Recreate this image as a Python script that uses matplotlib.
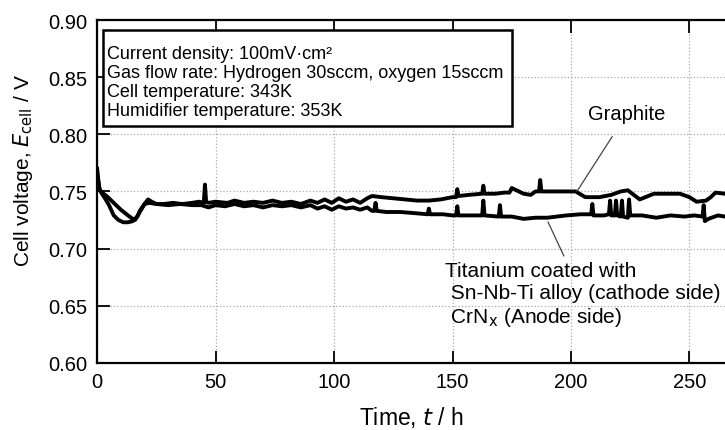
import matplotlib
matplotlib.use("Agg")
import matplotlib.pyplot as plt
from matplotlib.patches import Rectangle

plt.rcParams["font.family"] = ["Liberation Sans", "DejaVu Sans"]

# (time h, cell voltage V)
# Graphite separator: rounded dip at start, upper curve later on
graphite = [
    (0, 0.770), (0.5, 0.760), (1, 0.752), (2, 0.748), (3, 0.745), (5, 0.738),
    (7, 0.729), (9, 0.725), (11, 0.723), (13, 0.723), (15, 0.724), (17, 0.728),
    (18, 0.733), (20, 0.739), (21.5, 0.743), (23, 0.741), (25, 0.739),
    (28, 0.739), (32, 0.740), (36, 0.739), (40, 0.740), (43, 0.741),
    (45, 0.740), (45.5, 0.756), (46, 0.741), (47, 0.740), (50, 0.741),
    (55, 0.740), (58, 0.742), (62, 0.740), (66, 0.741), (70, 0.740),
    (74, 0.742), (78, 0.740), (82, 0.741), (86, 0.739), (90, 0.742),
    (93, 0.740), (96, 0.743), (99, 0.740), (102, 0.744), (105, 0.741),
    (108, 0.743), (111, 0.740), (114, 0.744), (116, 0.746), (120, 0.745),
    (125, 0.744), (130, 0.743), (135, 0.742), (140, 0.742), (145, 0.743),
    (150, 0.745), (151.5, 0.745), (152, 0.752), (152.5, 0.746), (157, 0.747),
    (162.5, 0.748), (163, 0.755), (163.5, 0.748), (168, 0.748), (172, 0.749),
    (174, 0.749), (175, 0.753), (180, 0.748), (183, 0.747), (185, 0.750),
    (186.5, 0.750), (187, 0.760), (187.5, 0.750), (190, 0.750), (195, 0.750),
    (202, 0.750), (206, 0.745), (212, 0.745), (217, 0.747), (221, 0.750),
    (224, 0.751), (229, 0.743), (235, 0.748), (240, 0.748), (246, 0.748),
    (250, 0.745), (253, 0.741), (257, 0.742), (259, 0.745), (261, 0.749),
    (265, 0.748),
]

# Titanium coated with Sn-Nb-Ti alloy / CrNx: V-shaped dip, lower curve later
titanium = [
    (0, 0.765), (0.5, 0.758), (1, 0.752), (2, 0.749), (4, 0.746), (7, 0.740),
    (10, 0.734), (13, 0.729), (15, 0.726), (16, 0.725), (18, 0.732),
    (20, 0.739), (22, 0.740), (25, 0.739), (30, 0.738), (35, 0.739),
    (40, 0.738), (44, 0.738), (47, 0.736), (50, 0.738), (54, 0.737),
    (58, 0.739), (62, 0.737), (66, 0.738), (70, 0.736), (74, 0.738),
    (78, 0.737), (82, 0.738), (86, 0.736), (90, 0.738), (93, 0.735),
    (96, 0.737), (99, 0.734), (102, 0.737), (105, 0.735), (108, 0.736),
    (111, 0.734), (114, 0.736), (116, 0.733), (117, 0.733), (117.5, 0.740),
    (118, 0.733), (122, 0.732), (128, 0.732), (134, 0.731), (139.5, 0.730),
    (140, 0.735), (140.5, 0.730), (146, 0.730), (150, 0.729), (151.5, 0.729),
    (152, 0.737), (152.5, 0.729), (158, 0.729), (162.5, 0.729), (163, 0.742),
    (163.5, 0.729), (169.5, 0.728), (170, 0.738), (170.5, 0.728), (175, 0.728),
    (180, 0.726), (185, 0.727), (190, 0.727), (198, 0.729), (204, 0.730),
    (208.5, 0.730), (209, 0.739), (209.5, 0.729), (214, 0.729), (216, 0.730),
    (216.5, 0.742), (217, 0.729), (218.5, 0.729), (219, 0.742), (219.5, 0.729),
    (221, 0.728), (221.5, 0.742), (222, 0.728), (224, 0.727), (224.5, 0.743),
    (225, 0.729), (230, 0.729), (236, 0.727), (242, 0.729), (248, 0.728),
    (252, 0.729), (255.5, 0.728), (256, 0.738), (256.5, 0.724), (258, 0.726),
    (262, 0.729), (265, 0.728),
]

x_ticks = [0, 50, 100, 150, 200, 250]
y_ticks = [0.60, 0.65, 0.70, 0.75, 0.80, 0.85, 0.90]

conditions = ("Current density: 100mV\u00b7cm\u00b2\n"
              "Gas flow rate: Hydrogen 30sccm, oxygen 15sccm\n"
              "Cell temperature: 343K\n"
              "Humidifier temperature: 353K")

t_graphite, v_graphite = zip(*graphite)
t_titanium, v_titanium = zip(*titanium)

fig = plt.figure(figsize=(7.25, 4.31), dpi=100)
ax = fig.add_axes([0.134, 0.156, 0.866, 0.795])

ax.plot(t_graphite, v_graphite, color="black", lw=2.8, solid_joinstyle="round")
ax.plot(t_titanium, v_titanium, color="black", lw=2.8, solid_joinstyle="round")

ax.set_xlim(0, 265)
ax.set_ylim(0.60, 0.90)
ax.set_xticks(x_ticks)
ax.set_yticks(y_ticks)
ax.yaxis.set_major_formatter(matplotlib.ticker.FormatStrFormatter("%.2f"))
ax.tick_params(direction="in", length=9, width=1.3, labelsize=14.5,
               top=True, right=False, pad=7)
ax.spines["right"].set_visible(False)
for s in ("left", "bottom", "top"):
    ax.spines[s].set_linewidth(1.6)
ax.grid(True, linestyle=":", color="#aaaaaa", lw=0.9)

ax.set_xlabel("Time, $t$ / h", fontsize=16.5, labelpad=9)
ax.set_ylabel("Cell voltage, $E_{\\mathrm{cell}}$ / V", fontsize=15, labelpad=10)
ax.yaxis.set_label_coords(-0.099, 0.565)

# conditions box
ax.add_patch(Rectangle((2.5, 0.8073), 172.5, 0.084, fill=False,
                       ec="black", lw=1.8, zorder=4))
ax.add_patch(Rectangle((2.5, 0.8073), 172.5, 0.084, fc="white",
                       ec="none", zorder=3))
ax.text(4.2, 0.878, conditions, fontsize=13, va="top", ha="left",
        linespacing=1.15, zorder=5)

ax.annotate("Graphite", xy=(202.5, 0.750), xytext=(223.6, 0.818),
            fontsize=14.5, ha="center", va="center",
            arrowprops=dict(arrowstyle="-", color="#444444", lw=0.9,
                            shrinkA=9, shrinkB=0))
ax.annotate("", xy=(190.3, 0.7233), xytext=(197, 0.6935),
            arrowprops=dict(arrowstyle="-", color="#444444", lw=0.9,
                            shrinkA=0, shrinkB=0))
ax.text(147, 0.6895, "Titanium coated with\n Sn-Nb-Ti alloy (cathode side)\n"
        " CrN$_\\mathrm{x}$ (Anode side)", fontsize=15, va="top", ha="left",
        linespacing=1.2)

fig.savefig("out.png", dpi=100)
